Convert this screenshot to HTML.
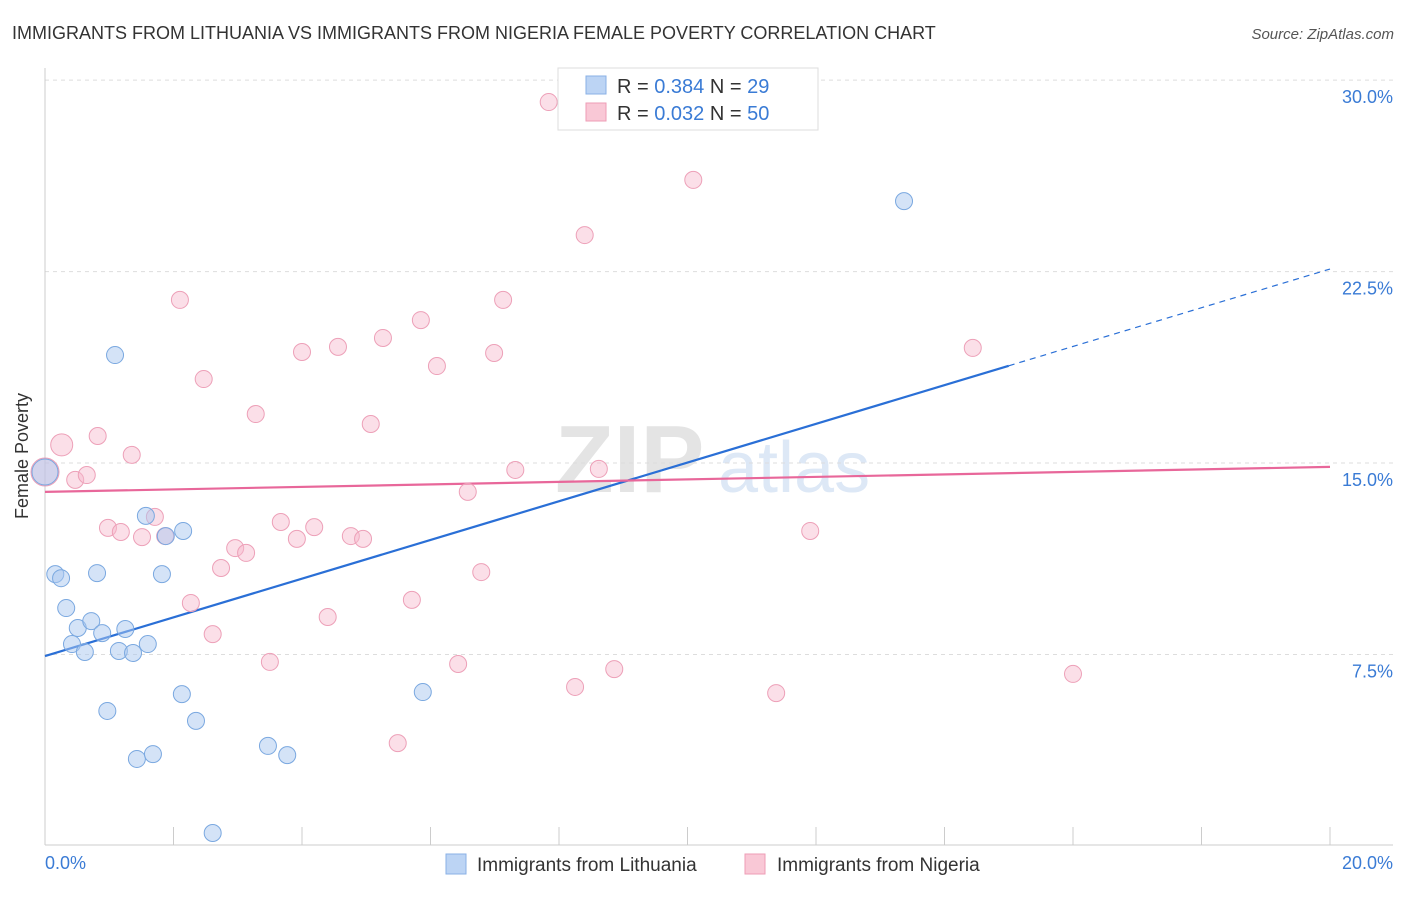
<!DOCTYPE html>
<html><head><meta charset="utf-8"><style>
body{margin:0;background:#fff;font-family:"Liberation Sans",sans-serif;}
svg text{font-family:"Liberation Sans",sans-serif;}
</style></head><body>
<svg id="chart" width="1406" height="892" xmlns="http://www.w3.org/2000/svg">
<text x="12" y="39" font-size="18" fill="#333">IMMIGRANTS FROM LITHUANIA VS IMMIGRANTS FROM NIGERIA FEMALE POVERTY CORRELATION CHART</text>
<text x="1394" y="39" font-size="15" fill="#555" font-style="italic" text-anchor="end">Source: ZipAtlas.com</text>
<text x="555" y="492" font-size="96" fill="#e4e4e4" font-family="Liberation Serif" font-weight="bold">ZIP</text>
<text x="718" y="492" font-size="72" fill="#dde8f6">atlas</text>
<g id="grid"></g>
<line x1="45" y1="68" x2="45" y2="845" stroke="#ccc"/>
<line x1="45" y1="845" x2="1393" y2="845" stroke="#ccc"/>
<text x="28" y="456" font-size="18" fill="#333" text-anchor="middle" transform="rotate(-90 28 456)">Female Poverty</text>
<text x="45" y="869" font-size="18" fill="#3a7bd5">0.0%</text>
<text x="1393" y="869" font-size="18" fill="#3a7bd5" text-anchor="end">20.0%</text>
<g id="lines"></g>
<g id="points"></g>
<g>
<rect x="558" y="68" width="260" height="62" fill="#fff" stroke="#ddd"/>
<rect x="586" y="76" width="20" height="18" fill="#bcd4f4" stroke="#8ab0e6"/>
<rect x="586" y="103" width="20" height="18" fill="#f9c8d6" stroke="#ee9db6"/>
<text x="617" y="93" font-size="20" fill="#333">R = <tspan fill="#3a7bd5">0.384</tspan>   N = <tspan fill="#3a7bd5">29</tspan></text>
<text x="617" y="120" font-size="20" fill="#333">R = <tspan fill="#3a7bd5">0.032</tspan>   N = <tspan fill="#3a7bd5">50</tspan></text>
</g>
<g>
<rect x="446" y="854" width="20" height="20" fill="#bcd4f4" stroke="#8ab0e6"/>
<text x="477" y="871" font-size="19" fill="#333">Immigrants from Lithuania</text>
<rect x="745" y="854" width="20" height="20" fill="#f9c8d6" stroke="#ee9db6"/>
<text x="777" y="871" font-size="19" fill="#333">Immigrants from Nigeria</text>
</g>
</svg>
<script>
const yTicks=[7.5,15,22.5,30];
const yTickLabels=["7.5%","15.0%","22.5%","30.0%"];
const xTicks=[0,2,4,6,8,10,12,14,16,18,20];
const lithX=[0,0.16,0.25,0.33,0.42,0.51,0.62,0.72,0.81,0.89,0.97,1.09,1.15,1.25,1.37,1.43,1.57,1.60,1.68,1.82,1.88,2.13,2.15,2.35,2.61,3.47,3.77,5.88,13.37];
const lithY=[14.65,10.65,10.49,9.32,7.91,8.54,7.60,8.81,10.69,8.34,5.29,19.23,7.64,8.50,7.56,3.41,12.93,7.91,3.60,10.65,12.14,5.95,12.34,4.90,0.51,3.92,3.56,6.03,25.26];
const nigX=[0,0.26,0.47,0.65,0.82,0.98,1.18,1.35,1.51,1.71,1.87,2.10,2.27,2.47,2.61,2.74,2.96,3.13,3.28,3.50,3.67,3.92,4.00,4.19,4.40,4.56,4.76,4.95,5.07,5.26,5.49,5.71,5.85,6.10,6.43,6.58,6.79,6.99,7.13,7.32,7.84,8.25,8.40,8.62,8.86,10.09,11.38,11.91,14.44,16.00];
const nigY=[14.65,15.71,14.34,14.53,16.06,12.46,12.30,15.32,12.10,12.89,12.14,21.39,9.52,18.29,8.30,10.89,11.67,11.48,16.92,7.21,12.69,12.03,19.35,12.49,8.97,19.55,12.14,12.03,16.53,19.90,4.03,9.64,20.60,18.80,7.13,13.87,10.73,19.31,21.39,14.73,29.14,6.23,23.93,14.77,6.93,26.09,5.99,12.34,19.51,6.74];
const lithTrend=[7.44,22.6];
const nigTrend=[13.87,14.85];
const NS="http://www.w3.org/2000/svg";
const X=v=>45+v*64.25, Y=v=>846-v*25.53;
function mk(t,a,p){const e=document.createElementNS(NS,t);for(const k in a)e.setAttribute(k,a[k]);p.appendChild(e);return e;}
const grid=document.getElementById('grid');
yTicks.forEach((t,i)=>{
 const l=mk('line',{x1:45,x2:1393,y1:Y(t),y2:Y(t),stroke:'#ddd','stroke-dasharray':'4,4'},grid);
 
 
 const tx=mk('text',{x:1393,y:Y(t)+23,'font-size':18,fill:'#3a7bd5','text-anchor':'end'},grid);
 tx.textContent=yTickLabels[i];
 
 
});
xTicks.forEach(t=>{
 const l=mk('line',{x1:X(t),x2:X(t),y1:827,y2:845,stroke:'#ccc'},grid);
 
 
});
const lines=document.getElementById('lines');
const xe=15;
const bl=mk('line',{x1:X(0),y1:Y(lithTrend[0]),x2:X(xe),y2:Y(lithTrend[0]+(lithTrend[1]-lithTrend[0])*xe/20),stroke:'#2a6fd6','stroke-width':2.2},lines);


const bd=mk('line',{x1:X(xe),y1:Y(lithTrend[0]+(lithTrend[1]-lithTrend[0])*xe/20),x2:X(20),y2:Y(lithTrend[1]),stroke:'#2a6fd6','stroke-width':1.2,'stroke-dasharray':'6,5'},lines);


const pl=mk('line',{x1:X(0),y1:Y(nigTrend[0]),x2:X(20),y2:Y(nigTrend[1]),stroke:'#e8679a','stroke-width':2.2},lines);


const pts=document.getElementById('points');
nigX.forEach((x,i)=>{
 const r=i==0?14:(i==1?11:8.5);
 const c=mk('circle',{cx:X(x),cy:Y(nigY[i]),r:r,fill:'rgba(247,184,203,0.45)',stroke:'#eda0b8','stroke-width':1},pts);
 
 
});
lithX.forEach((x,i)=>{
 const r=i==0?13:8.5;
 const c=mk('circle',{cx:X(x),cy:Y(lithY[i]),r:r,fill:'rgba(169,200,240,0.5)',stroke:'#7aa8e0','stroke-width':1},pts);
 
 
});
</script>
</body></html>
